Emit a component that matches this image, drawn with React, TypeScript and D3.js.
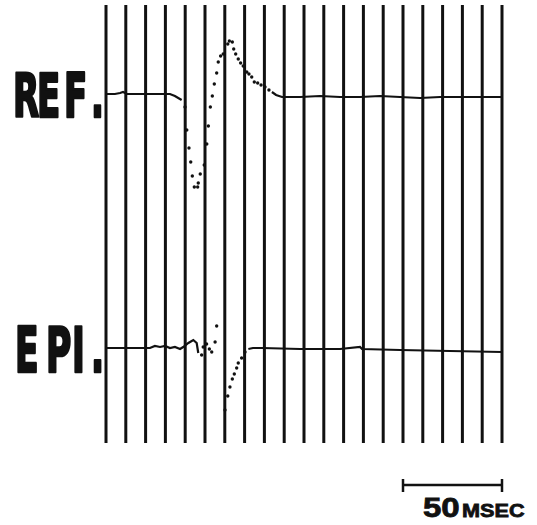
import React from "react";
import * as d3 from "d3";

// time base: one vertical line every 10 msec, 200 msec wide
const GRID_MS = d3.range(0, 201, 10);
const SCALE_BAR_MS = [150, 200];

// REF. channel — [msec, amplitude]
const refPre: [number, number][] = [
  [0, 0], [4.5, 0], [7.1, 0.1], [8.6, 0.2], [10.6, 0], [20, 0], [32.3, 0],
  [34.8, -0.2], [38.2, -0.6],
];
const refDots: [number, number][] = [
  [39.9, -1.3], [40.8, -3.6], [41.9, -5.4], [42.8, -6.8], [43.6, -8.2], [44.6, -9.3],
  [46.3, -9.3], [46.6, -8.9], [47.6, -8.0], [49.6, -7.1], [50.9, -5.0], [51.7, -3.2],
  [52.7, -1.3], [53.7, -0.2], [54.7, 1.0], [55.9, 2.1], [56.7, 3.2], [57.9, 3.8],
  [59.2, 4.0], [61.5, 5.0], [62.3, 5.3], [63.8, 5.2], [64.5, 4.5], [65.5, 4.0],
  [66.8, 3.5], [68.0, 3.1], [69.3, 2.8], [71.1, 2.2], [72.2, 2.0], [73.6, 1.7],
  [74.9, 1.2], [76.6, 1.1], [78.3, 0.9], [80.3, 0.7], [82.3, 0.4],
];
const refPost: [number, number][] = [
  [83.8, 0.2], [85.9, -0.1], [88.9, -0.3], [98, -0.3], [108.1, -0.2], [118.2, -0.3],
  [128.3, -0.3], [138.4, -0.2], [148.5, -0.3], [158.6, -0.4], [168.7, -0.3],
  [178.8, -0.3], [188.9, -0.3], [200, -0.3],
];

// EPI. channel — [msec, amplitude]
const epiPre: [number, number][] = [
  [0, 0], [12.1, 0], [22.2, 0], [24.7, 0.2], [27.3, 0.1], [29.8, 0.2], [32.3, 0],
  [34.8, 0.1], [37.4, -0.1], [39.0, 0.1], [41.6, 0.5], [44.1, 0.8], [45.8, 0.5],
  [46.6, -0.5],
];
const epiDots: [number, number][] = [
  [48.3, -0.7], [49.1, 0.1], [50.8, 0.4], [52.2, -0.1], [53.4, -0.4], [55.1, 0.6],
  [55.9, 2.2], [60.1, -6.2], [61.5, -4.8], [62.6, -3.9], [63.8, -3.1], [64.8, -2.6],
  [66.0, -2.0], [66.8, -1.5], [68.5, -1.0], [70.2, -0.4],
];
const epiPost: [number, number][] = [
  [71.9, -0.1], [74.2, 0], [78.8, 0], [98, -0.1], [118.2, -0.1], [128.3, 0.1],
  [129.3, -0.1], [148.5, -0.2], [173.7, -0.3], [200, -0.4],
];

// label text and the left edge of each glyph (the letters are spaced out)
const refLabel = "REF.";
const refGlyphX = [13, 37, 64, 91];
const epiLabel = "EPI.";
const epiGlyphX = [15, 46, 72, 91];

const channels = [
  { key: "ref", label: refLabel, glyphX: refGlyphX, pre: refPre, dots: refDots, post: refPost, zero: 94, labelBase: 117, fs: 61 },
  { key: "epi", label: epiLabel, glyphX: epiGlyphX, pre: epiPre, dots: epiDots, post: epiPost, zero: 348, labelBase: 372, fs: 62 },
];

const W = 537;
const H = 525;
const INK = "#111";
const LABEL_FONT = "'Liberation Sans Narrow', 'DejaVu Sans Condensed', sans-serif";
const LABEL_SX = 0.62;

export default function App() {
  const x = d3.scaleLinear().domain([0, 200]).range([106, 502]);

  return (
    <svg width={W} height={H} style={{ display: "block", position: "absolute", left: 0, top: 0, background: "#fff" }}>
      {/* vertical time lines */}
      {GRID_MS.map((t) => (
        <line key={t} x1={x(t)} x2={x(t)} y1={5} y2={443} stroke={INK} strokeWidth={3} />
      ))}

      {channels.map((ch) => {
        // 10 px per amplitude unit, zero at the channel baseline
        const y = d3.scaleLinear().domain([-10, 6]).range([ch.zero + 100, ch.zero - 60]);
        const line = d3.line<[number, number]>().x((d) => x(d[0])).y((d) => y(d[1]));
        return (
          <g key={ch.key}>
            <text
              transform={`translate(0,${ch.labelBase}) scale(${LABEL_SX},1)`}
              x={ch.glyphX.map((v) => (v / LABEL_SX).toFixed(1)).join(" ")} y={0}
              fontFamily={LABEL_FONT} fontWeight="bold" fontSize={ch.fs}
              fill={INK} stroke={INK} strokeWidth={2.6} strokeLinejoin="round"
            >{ch.label}</text>
            <path d={line(ch.pre) || ""} fill="none" stroke={INK} strokeWidth={2.2} />
            <path d={line(ch.post) || ""} fill="none" stroke={INK} strokeWidth={2.2} />
            {ch.dots.map((d, i) => (
              <circle key={i} cx={x(d[0])} cy={y(d[1])} r={1.7} fill={INK} />
            ))}
          </g>
        );
      })}

      {/* scale bar */}
      <g stroke={INK} strokeWidth={2.5}>
        <line x1={x(SCALE_BAR_MS[0])} x2={x(SCALE_BAR_MS[1])} y1={485} y2={485} />
        <line x1={x(SCALE_BAR_MS[0])} x2={x(SCALE_BAR_MS[0])} y1={479} y2={492} />
        <line x1={x(SCALE_BAR_MS[1])} x2={x(SCALE_BAR_MS[1])} y1={479} y2={492} />
      </g>
      <g fontFamily="'Liberation Sans', Arial, sans-serif" fontWeight="bold" fill={INK} stroke={INK} strokeWidth={0.8}>
        <text transform="translate(423,517) scale(1.18,1)" fontSize={28}>50</text>
        <text transform="translate(462,517) scale(1.14,1)" fontSize={19}>MSEC</text>
      </g>
    </svg>
  );
}
